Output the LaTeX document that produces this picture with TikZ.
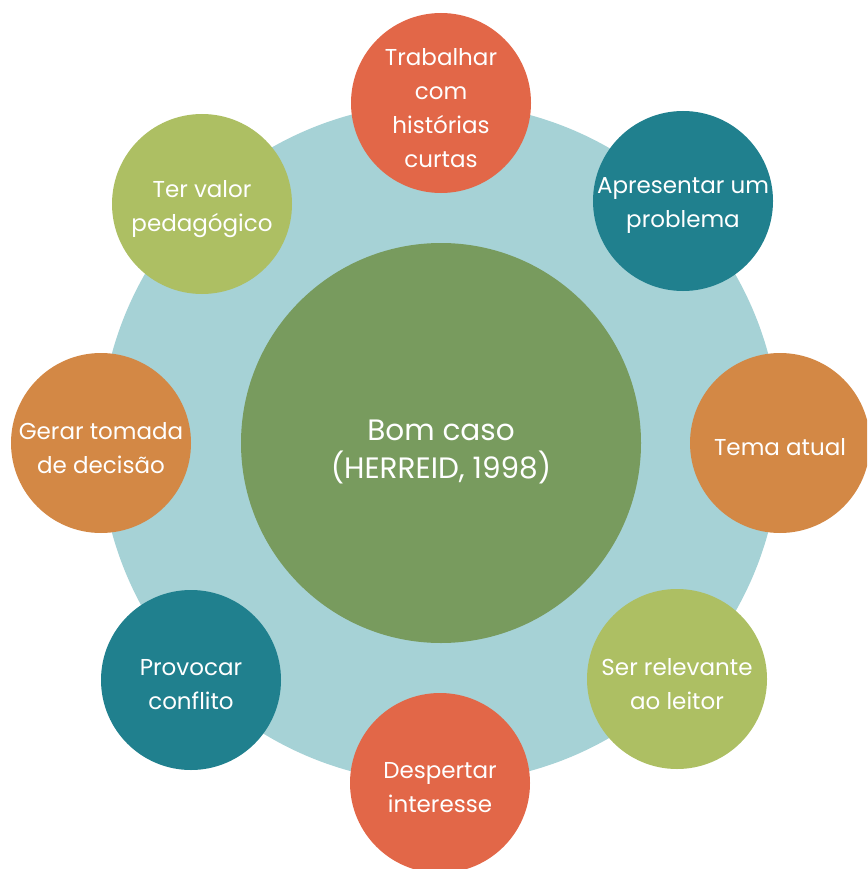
\documentclass[tikz,border=0pt]{standalone}
\usepackage{fontspec}
\setmainfont{Poppins}
\begin{document}
\begin{tikzpicture}[x=1pt,y=1pt]
  \definecolor{ringblue}{HTML}{A6D2D6}
  \definecolor{coregreen}{HTML}{789B5E}
  \definecolor{coral}{HTML}{E26748}
  \definecolor{teal}{HTML}{20808E}
  \definecolor{amber}{HTML}{D38845}
  \definecolor{olive}{HTML}{ADBF63}
  \tikzset{
    bubble/.style={circle, minimum size=180pt, inner sep=0pt},
    caption/.style={inner sep=0pt, align=center, text=white,
      font=\fontsize{23}{34}\selectfont},
    hub/.style={circle, minimum size=400pt, inner sep=0pt, fill=coregreen},
    hubtext/.style={inner sep=0pt, align=center, text=white,
      font=\fontsize{29.5}{38}\selectfont}
  }
  \useasboundingbox (0,0) rectangle (867,-869);
  \begin{scope}
    \clip (0,0) rectangle (867,-869);
    % background ring
    \node[circle, minimum size=680pt, inner sep=0pt, fill=ringblue] (ring) at (440,-443) {};
    % central idea
    \node[hub] (hub) at (441,-443) {};
    \node[hubtext] (hubt) at ([yshift=-9pt]hub.center) {Bom caso\\(HERREID, 1998)};
    % surrounding attributes
    \node[bubble, fill=coral] (b1) at (441,-103) {};
    \node[bubble, fill=teal]  (b2) at (683,-201) {};
    \node[bubble, fill=amber] (b3) at (780,-443) {};
    \node[bubble, fill=olive] (b4) at (677,-679) {};
    \node[bubble, fill=coral] (b5) at (440,-783) {};
    \node[bubble, fill=teal]  (b6) at (191,-680) {};
    \node[bubble, fill=amber] (b7) at (101,-443) {};
    \node[bubble, fill=olive] (b8) at (202,-204) {};
    % their labels
    \node[caption] (t1) at ([yshift=-5pt]b1.center) {Trabalhar\\com\\histórias\\curtas};
    \node[caption] (t2) at ([yshift=-5pt]b2.center) {Apresentar um\\problema};
    \node[caption] (t3) at ([yshift=-4pt]b3.center) {Tema atual};
    \node[caption] (t4) at ([yshift=-5pt]b4.center) {Ser relevante\\ao leitor};
    \node[caption] (t5) at ([yshift=-5pt]b5.center) {Despertar\\interesse};
    \node[caption] (t6) at ([yshift=-5pt]b6.center) {Provocar\\conflito};
    \node[caption] (t7) at ([yshift=-5pt]b7.center) {Gerar tomada\\de decisão};
    \node[caption] (t8) at ([yshift=-5pt]b8.center) {Ter valor\\pedagógico};
  \end{scope}
\end{tikzpicture}
\end{document}
